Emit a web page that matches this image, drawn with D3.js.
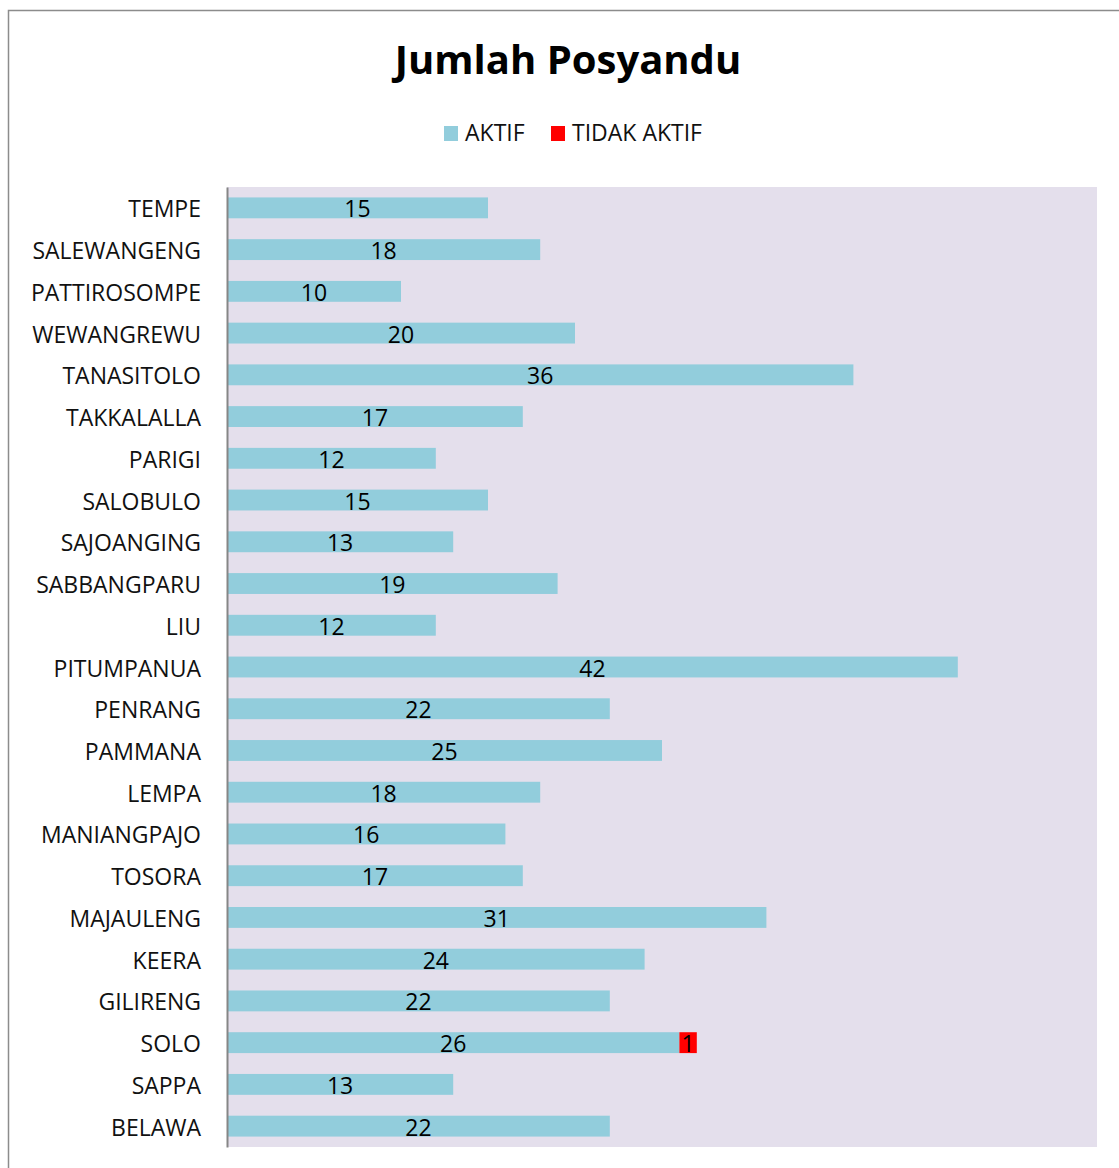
<!DOCTYPE html>
<html>
<head>
<meta charset="utf-8">
<script src="https://cdn.jsdelivr.net/npm/d3@7"></script>
<style>
  body { margin: 0; background: #fff; font-family: "Open Sans", "Noto Sans", sans-serif; }
</style>
</head>
<body>
<div id="chart"></div>
<script>
// Desa / kelurahan (top to bottom)
const desa = ["TEMPE", "SALEWANGENG", "PATTIROSOMPE", "WEWANGREWU", "TANASITOLO", "TAKKALALLA",
  "PARIGI", "SALOBULO", "SAJOANGING", "SABBANGPARU", "LIU", "PITUMPANUA", "PENRANG", "PAMMANA",
  "LEMPA", "MANIANGPAJO", "TOSORA", "MAJAULENG", "KEERA", "GILIRENG", "SOLO", "SAPPA", "BELAWA"];
// Posyandu aktif
const aktif = [15, 18, 10, 20, 36, 17, 12, 15, 13, 19, 12, 42, 22, 25, 18, 16, 17, 31, 24, 22, 26, 13, 22];
// Posyandu tidak aktif
const tidakAktif = [0, 0, 0, 0, 0, 0, 0, 0, 0, 0, 0, 0, 0, 0, 0, 0, 0, 0, 0, 0, 1, 0, 0];

const seriesNames = ["AKTIF", "TIDAK AKTIF"];
const colors = { "AKTIF": "#92CDDC", "TIDAK AKTIF": "#FF0000" };

const W = 1119, H = 1168;
const margin = { top: 187, right: 22, bottom: 21, left: 227 },
  width = W - margin.left - margin.right,
  height = H - margin.top - margin.bottom;

const svg = d3.select("#chart").append("svg")
  .attr("width", W)
  .attr("height", H);

// outer chart border
svg.append("rect")
  .attr("x", 8.5).attr("y", 10.5)
  .attr("width", W + 20).attr("height", H + 20)
  .attr("fill", "none")
  .attr("stroke", "#8c8c8c")
  .attr("stroke-width", 1.5);

// title
svg.append("text")
  .attr("x", 568).attr("y", 74)
  .attr("text-anchor", "middle")
  .style("font-family", "'Open Sans', sans-serif")
  .style("font-weight", "bold")
  .style("font-size", "40px")
  .text("Jumlah Posyandu");

// legend
const legend = svg.append("g");
const legendX = [444, 551];
seriesNames.forEach((s, i) => {
  legend.append("rect")
    .attr("x", legendX[i]).attr("y", 126)
    .attr("width", 14).attr("height", 15)
    .attr("fill", colors[s]);
  legend.append("text")
    .attr("x", legendX[i] + 21).attr("y", 141)
    .style("font-size", "23px")
    .attr("fill", "#111")
    .text(s);
});

const g = svg.append("g")
  .attr("transform", "translate(" + margin.left + "," + margin.top + ")");

// plot area
g.append("rect")
  .attr("width", width).attr("height", height)
  .attr("fill", "#E4DFEC");

const x = d3.scaleLinear().domain([0, 50]).range([0, width]);
const y = d3.scaleBand().domain(desa).range([0, height])
  .paddingInner(0.5).paddingOuter(0.25);

const rows = desa.map((d, i) => ({ desa: d, "AKTIF": aktif[i], "TIDAK AKTIF": tidakAktif[i] }));
const stacked = d3.stack().keys(seriesNames)(rows);

const layer = g.selectAll(".layer")
  .data(stacked)
  .join("g")
  .attr("class", "layer")
  .attr("fill", d => colors[d.key]);

layer.selectAll("rect")
  .data(d => d.filter(p => p[1] - p[0] > 0))
  .join("rect")
  .attr("x", d => x(d[0]))
  .attr("y", d => y(d.data.desa))
  .attr("width", d => x(d[1]) - x(d[0]))
  .attr("height", y.bandwidth());

// value labels
layer.selectAll("text")
  .data(d => d.filter(p => p[1] - p[0] > 0))
  .join("text")
  .attr("x", d => (x(d[0]) + x(d[1])) / 2)
  .attr("y", d => y(d.data.desa) + y.bandwidth() / 2 + 9.5)
  .attr("text-anchor", "middle")
  .attr("fill", "#000")
  .style("font-size", "23px")
  .text(d => d[1] - d[0]);

// y axis (category labels)
const yAxis = g.append("g")
  .call(d3.axisLeft(y).tickSize(0).tickPadding(26));
yAxis.select(".domain").attr("stroke", "#868686").attr("stroke-width", 2);
yAxis.selectAll("text")
  .attr("dy", null)
  .attr("y", 9.5)
  .style("font-family", "'Open Sans', sans-serif")
  .style("font-size", "23px")
  .attr("fill", "#111");
</script>
</body>
</html>
